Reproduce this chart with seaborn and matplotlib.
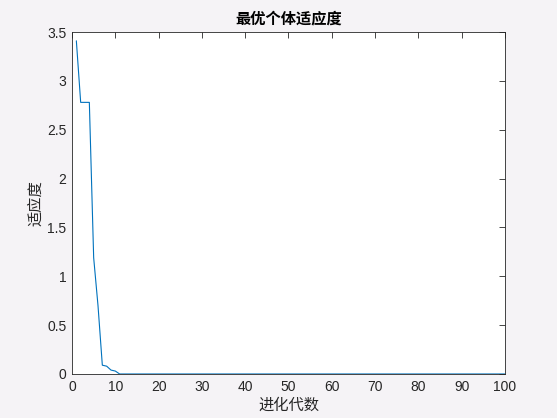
import matplotlib
matplotlib.use("Agg")
import matplotlib.pyplot as plt
import seaborn as sns
import pandas as pd
from matplotlib.ticker import FuncFormatter

# best individual fitness per generation
generations = list(range(1, 101))
fitness = [3.41, 2.78, 2.78, 2.78, 1.19, 0.70, 0.09, 0.08, 0.04, 0.03] + [0.0] * 90

x_ticks = list(range(0, 101, 10))
y_ticks = [0, 0.5, 1, 1.5, 2, 2.5, 3, 3.5]

df = pd.DataFrame({"gen": generations, "fit": fitness})

sns.set_style("white")
plt.rcParams["font.family"] = ["Noto Sans CJK SC", "DejaVu Sans"]

fig = plt.figure(figsize=(5.57, 4.18), dpi=100, facecolor="#f5f3f6")
ax = fig.add_axes([0.1293, 0.1053, 0.7773, 0.8181])
ax.set_facecolor("white")

sns.lineplot(data=df, x="gen", y="fit", ax=ax, color="#0072BD", linewidth=0.8, errorbar=None)

ax.set_xlim(0, 100)
ax.set_ylim(0, 3.5)
ax.set_xticks(x_ticks)
ax.set_yticks(y_ticks)
ax.yaxis.set_major_formatter(FuncFormatter(lambda v, p: f"{v:g}"))

ax.tick_params(direction="in", top=True, right=True, length=4, width=0.6,
               color="#262626", labelcolor="#262626", labelsize=10, pad=4)
for lbl in ax.get_xticklabels() + ax.get_yticklabels():
    lbl.set_family(["Liberation Sans", "DejaVu Sans"])
for s in ax.spines.values():
    s.set_color("#262626")
    s.set_linewidth(0.6)

ax.set_title("最优个体适应度", fontsize=11, fontweight="bold", color="#000000", pad=6)
ax.set_xlabel("进化代数", fontsize=11, color="#262626", labelpad=2)
ax.set_ylabel("适应度", fontsize=11, color="#262626", labelpad=2)

fig.savefig("out.png", dpi=100, facecolor=fig.get_facecolor())
